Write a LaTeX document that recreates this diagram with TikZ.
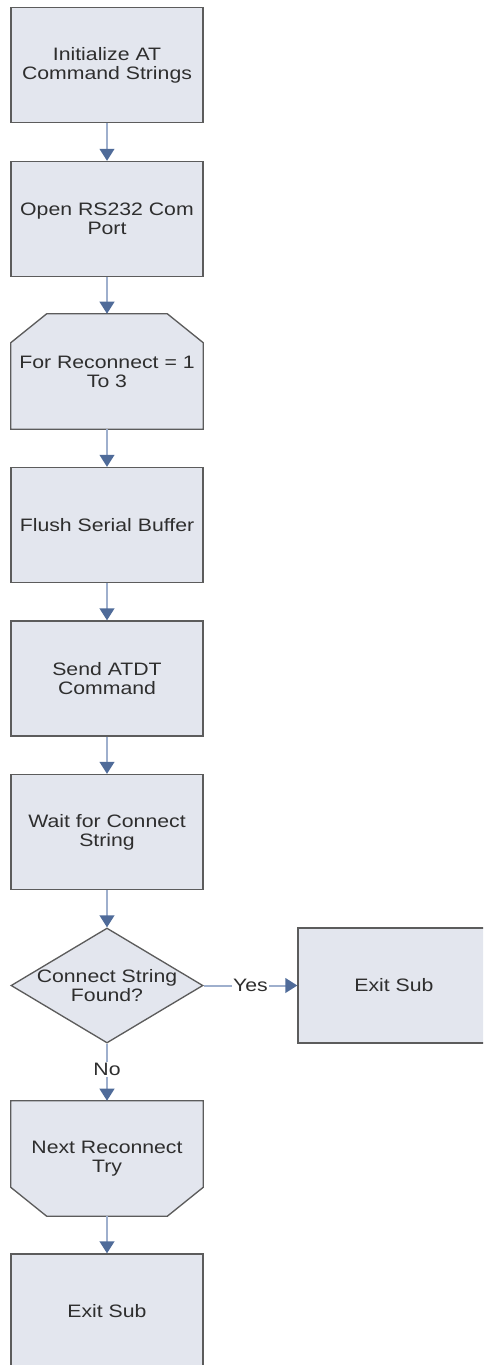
\documentclass[tikz,border=0pt]{standalone}
\usepackage{fontspec}
\setmainfont{Liberation Sans}
\newfontfamily\widesans[FakeStretch=1.18]{Liberation Sans}
\usetikzlibrary{arrows.meta,shapes.geometric,calc}
\definecolor{boxfill}{HTML}{E3E6EE}
\definecolor{boxline}{HTML}{5C5C5C}
\definecolor{lineblue}{HTML}{9EAFCD}
\definecolor{headblue}{HTML}{4F6B99}
\definecolor{txtgray}{HTML}{2E2E2E}
\tikzset{
  box/.style={draw=boxline, line width=1pt, fill=boxfill, rectangle,
    minimum width=144pt, minimum height=86.25pt, inner sep=0pt,
    align=center, text=txtgray, font=\widesans\fontsize{13.5}{14.25}\selectfont},
  frame/.style={rectangle, minimum width=144pt, minimum height=86.25pt, inner sep=0pt},
  outline/.style={draw=boxline, line width=1pt, fill=boxfill, line join=miter},
  decision/.style={draw=boxline, line width=1pt, fill=boxfill, diamond,
    minimum width=144pt, minimum height=86.25pt, inner sep=0pt},
  txt/.style={align=center, text=txtgray, font=\widesans\fontsize{13.5}{14.25}\selectfont, inner sep=0pt},
  lbl/.style={text=txtgray, font=\widesans\fontsize{13.5}{14.25}\selectfont, fill=white, inner sep=1pt},
  flow/.style={draw=lineblue, line width=1.5pt,
    -{Triangle[length=9pt,width=11pt,color=headblue]}},
}
\begin{document}
\begin{tikzpicture}[x=0.75pt,y=-0.75pt]
\useasboundingbox (0,0) rectangle (483,1365);
\clip (0,0) rectangle (483,1365);
\node[box] (b1) at (107,65) {Initialize AT\\Command Strings};
\node[box] (b2) at (107,219) {Open RS232 Com\\Port};
% loop start (chamfered top corners)
\node[frame] (b3) at (107,371.5) {};
\draw[outline] (b3.south west) -- ($(b3.north west)+(0,29)$) -- ($(b3.north west)+(36,0)$)
  -- ($(b3.north east)+(-36,0)$) -- ($(b3.north east)+(0,29)$) -- (b3.south east) -- cycle;
\node[txt] (t3) at (b3) {For Reconnect = 1\\To 3};
\node[box] (b4) at (107,525) {Flush Serial Buffer};
\node[box] (b5) at (107,678.5) {Send ATDT\\Command};
\node[box] (b6) at (107,832) {Wait for Connect\\String};
\node[decision] (d) at (107,985.5) {};
\node[txt] (td) at (d) {Connect String\\Found?};
\node[box] (e1) at (394,985.5) {Exit Sub};
% loop end (chamfered bottom corners)
\node[frame] (b7) at (107,1158.5) {};
\draw[outline] (b7.north west) -- ($(b7.south west)+(0,-29)$) -- ($(b7.south west)+(36,0)$)
  -- ($(b7.south east)+(-36,0)$) -- ($(b7.south east)+(0,-29)$) -- (b7.north east) -- cycle;
\node[txt] (t7) at (b7) {Next Reconnect\\Try};
\node[box] (b8) at (107,1311.5) {Exit Sub};
\draw[flow] (b1.south) -- (b2.north);
\draw[flow] (b2.south) -- (b3.north);
\draw[flow] (b3.south) -- (b4.north);
\draw[flow] (b4.south) -- (b5.north);
\draw[flow] (b5.south) -- (b6.north);
\draw[flow] (b6.south) -- (d.north);
\draw[flow] (d.east) -- node[lbl] {Yes} (e1.west);
\draw[flow] (d.south) -- node[lbl, pos=0.45] {No} (b7.north);
\draw[flow] (b7.south) -- (b8.north);
\end{tikzpicture}
\end{document}
